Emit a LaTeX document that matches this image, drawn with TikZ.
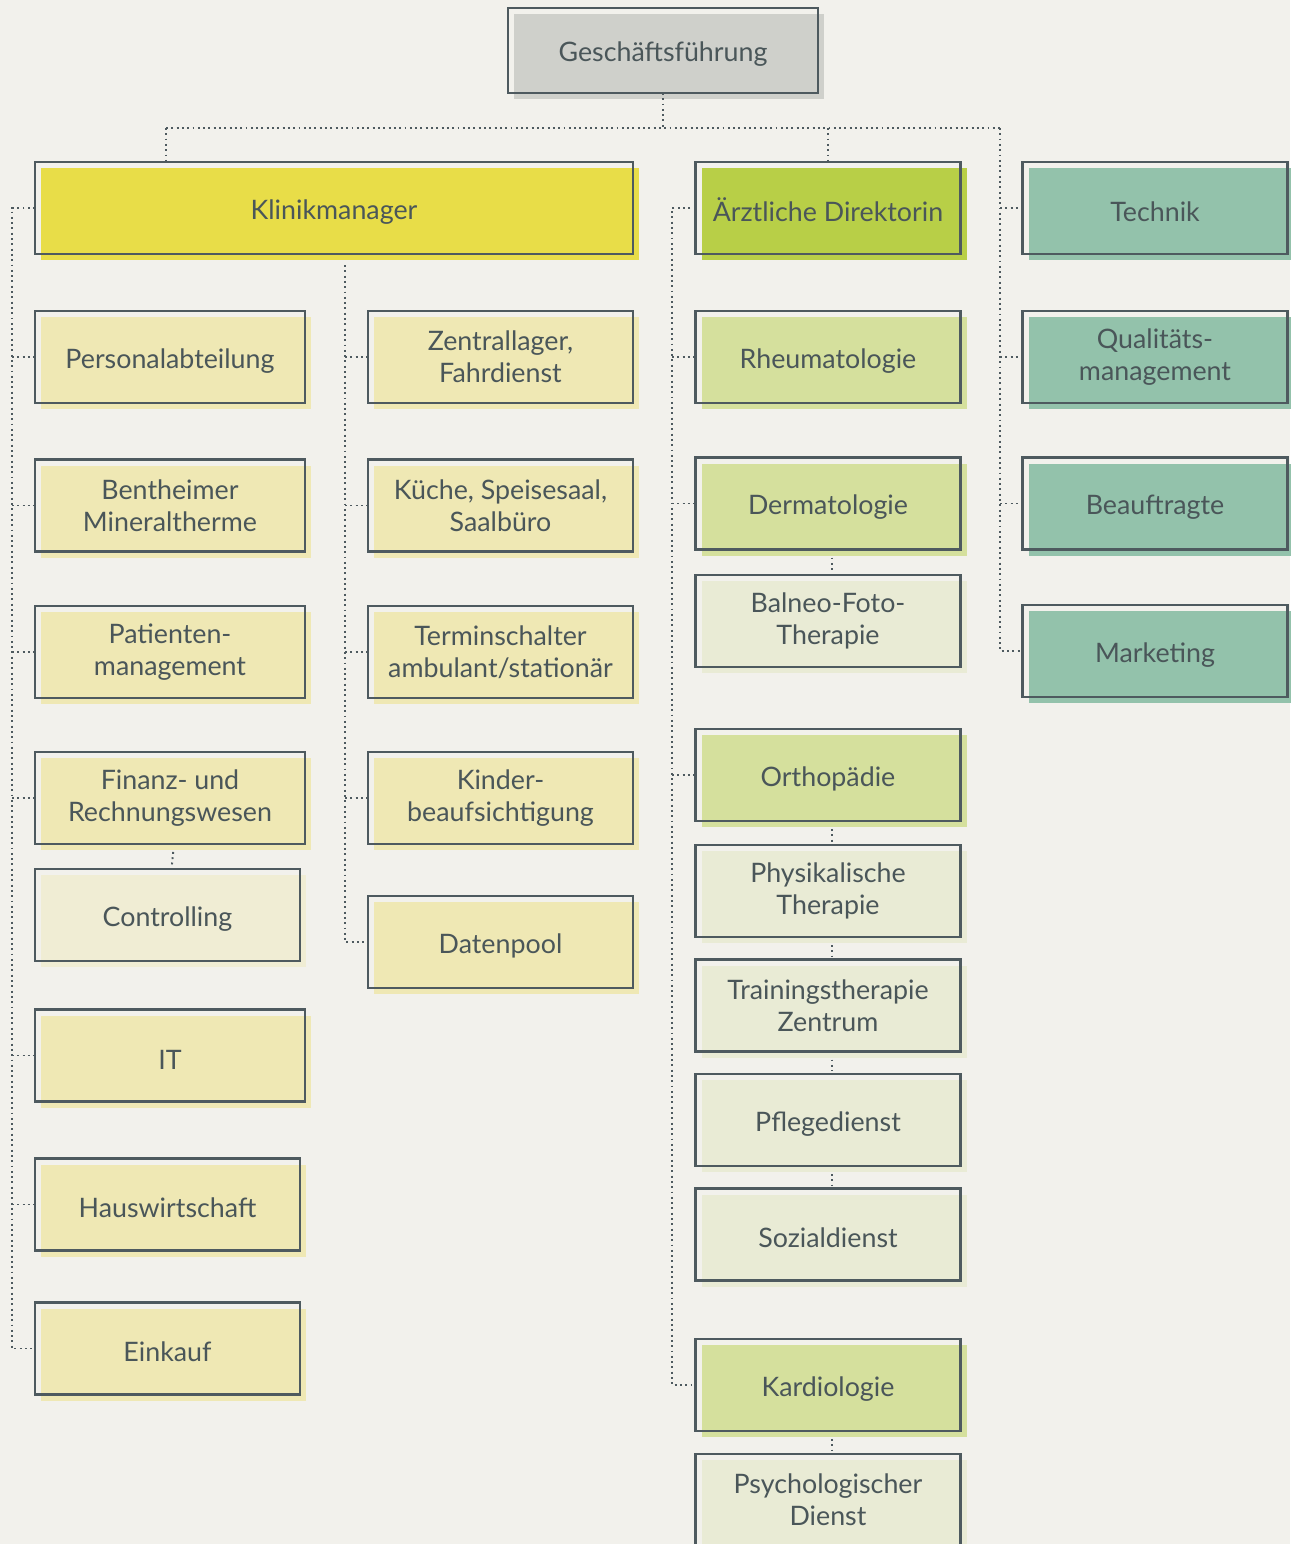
\documentclass[tikz,border=0pt]{standalone}
\usepackage{fontspec}
\setmainfont{Lato}
\usepackage{tikz}
\usetikzlibrary{shadows}
\usetikzlibrary{calc}
\definecolor{bgC}{HTML}{F2F1EC}
\definecolor{lineC}{HTML}{4E5A5F}
\definecolor{textC}{HTML}{4A5659}
\definecolor{cGray}{HTML}{CFD0CB}
\definecolor{cYellow}{HTML}{E8DD48}
\definecolor{cYellowL}{HTML}{EFE8B4}
\definecolor{cCream}{HTML}{F0EDD4}
\definecolor{cLime}{HTML}{B8CF47}
\definecolor{cLimeL}{HTML}{D5E09D}
\definecolor{cSage}{HTML}{E9EBD5}
\definecolor{cTeal}{HTML}{93C2AB}
\newcommand{\boxfont}{\fontsize{26.8}{32}\selectfont}
\tikzstyle{main}     = [draw=lineC, line width=2.4pt, inner sep=0pt, outer sep=0pt, align=center, text=textC, font=\boxfont, minimum height=92pt, execute at begin node={\rule{0pt}{27pt}}]
\tikzstyle{cgray}    = [general shadow={fill=cGray,    shadow xshift=6pt, shadow yshift=-6pt}]
\tikzstyle{cyellow}  = [general shadow={fill=cYellow,  shadow xshift=6pt, shadow yshift=-6pt}]
\tikzstyle{cyellowl} = [general shadow={fill=cYellowL, shadow xshift=6pt, shadow yshift=-6pt}]
\tikzstyle{ccream}   = [general shadow={fill=cCream,   shadow xshift=6pt, shadow yshift=-6pt}]
\tikzstyle{clime}    = [general shadow={fill=cLime,    shadow xshift=6pt, shadow yshift=-6pt}]
\tikzstyle{climel}   = [general shadow={fill=cLimeL,   shadow xshift=6pt, shadow yshift=-6pt}]
\tikzstyle{csage}    = [general shadow={fill=cSage,    shadow xshift=6pt, shadow yshift=-6pt}]
\tikzstyle{cteal}    = [general shadow={fill=cTeal,    shadow xshift=6pt, shadow yshift=-6pt}]
\tikzstyle{sizetop}  = [main, minimum width=310pt, minimum height=85pt]
\tikzstyle{sizewide} = [main, minimum width=598pt]
\tikzstyle{size1}    = [main, minimum width=270pt]
\tikzstyle{size1s}   = [main, minimum width=265pt]
\tikzstyle{size2}    = [main, minimum width=265pt]
\tikzstyle{conn}     = [draw=lineC, line width=1.9pt, dash pattern=on 1.9pt off 3.4pt]

\begin{document}
\begin{tikzpicture}[x=1pt, y=-1pt]
     \fill[bgC] (0,0) rectangle (1290,1544);
     \useasboundingbox (0,0) rectangle (1290,1544);
     % Leitung
     \draw
       node[sizetop, cgray]    (gf) at (663, 50.5) {Geschäftsführung}
       node[sizewide, cyellow] (km) at (334, 208)  {Klinikmanager}
       node[size2, clime]      (ad) at (828, 208)  {Ärztliche Direktorin}
       node[size2, cteal]      (te) at (1155, 208) {Technik};
     % Verwaltung links
     \draw
       node[size1, cyellowl]  (pa) at (170, 357)    {Personalabteilung}
       node[size1, cyellowl]  (bm) at (170, 505.5)  {Bentheimer\\Mineraltherme}
       node[size1, cyellowl]  (pm) at (170, 652)    {Patienten-\\management}
       node[size1, cyellowl]  (fr) at (170, 798)    {Finanz- und\\Rechnungswesen}
       node[size1s, ccream]   (co) at (167.5, 915)  {Controlling}
       node[size1, cyellowl]  (it) at (170, 1055.5) {IT}
       node[size1s, cyellowl] (hw) at (167.5, 1204.5) {Hauswirtschaft}
       node[size1s, cyellowl] (ek) at (167.5, 1348.5) {Einkauf};
     % Verwaltung Mitte
     \draw
       node[size2, cyellowl] (zf) at (500.5, 357)   {Zentrallager,\\Fahrdienst}
       node[size2, cyellowl] (ks) at (500.5, 505.5) {Küche, Speisesaal,\\Saalbüro}
       node[size2, cyellowl] (ts) at (500.5, 652)   {Terminschalter\\ambulant/stationär}
       node[size2, cyellowl] (kb) at (500.5, 798)   {Kinder-\\beaufsichtigung}
       node[size2, cyellowl] (dp) at (500.5, 942)   {Datenpool};
     % Medizin
     \draw
       node[size2, climel] (rh) at (828, 357)    {Rheumatologie}
       node[size2, climel] (de) at (828, 503.5)  {Dermatologie}
       node[size2, csage]  (bf) at (828, 621)    {Balneo-Foto-\\Therapie}
       node[size2, climel] (or) at (828, 775)    {Orthopädie}
       node[size2, csage]  (ph) at (828, 891)    {Physikalische\\Therapie}
       node[size2, csage]  (tz) at (828, 1005.5) {Trainingstherapie\\Zentrum}
       node[size2, csage]  (pf) at (828, 1120)   {Pflegedienst}
       node[size2, csage]  (sd) at (828, 1234.5) {Sozialdienst}
       node[size2, climel] (ka) at (828, 1385)   {Kardiologie}
       node[size2, csage]  (ps) at (828, 1500)   {Psychologischer\\Dienst};
     % Stab rechts
     \draw
       node[size2, cteal] (qm) at (1155, 357)   {Qualitäts-\\management}
       node[size2, cteal] (be) at (1155, 503.5) {Beauftragte}
       node[size2, cteal] (mk) at (1155, 651)   {Marketing};
     % Verbindungen
     \coordinate (bus)  at (166, 128);
     \coordinate (rbus) at (1000, 128);
     \coordinate (lt)   at (12, 208);
     \coordinate (mt)   at (345, 265);
     \coordinate (at)   at (672, 208);
     \draw[conn] (gf.south) -- (gf.south |- bus);
     \draw[conn] (bus) -- (rbus);
     \draw[conn] (bus) -- (bus |- km.north);
     \draw[conn] (ad.north |- bus) -- (ad.north);
     \draw[conn] (rbus) |- (mk.west);
     \foreach \n in {te, qm, be}
       \draw[conn] (rbus |- \n.west) -- (\n.west);
     \draw[conn] (km.west) -- (lt) |- (ek.west);
     \foreach \n in {pa, bm, pm, fr, it, hw}
       \draw[conn] (lt |- \n.west) -- (\n.west);
     \draw[conn] (mt) |- (dp.west);
     \foreach \n in {zf, ks, ts, kb}
       \draw[conn] (mt |- \n.west) -- (\n.west);
     \draw[conn] (ad.west) -- (at) |- (ka.west);
     \foreach \n in {rh, de, or}
       \draw[conn] (at |- \n.west) -- (\n.west);
     \foreach \a/\b in {fr/co, de/bf, or/ph, ph/tz, tz/pf, pf/sd, ka/ps}
       \draw[conn, shorten <=8pt, shorten >=3pt] ([xshift=4pt]\a.south) -- ([xshift=4pt]\b.north);
\end{tikzpicture}
\end{document}
